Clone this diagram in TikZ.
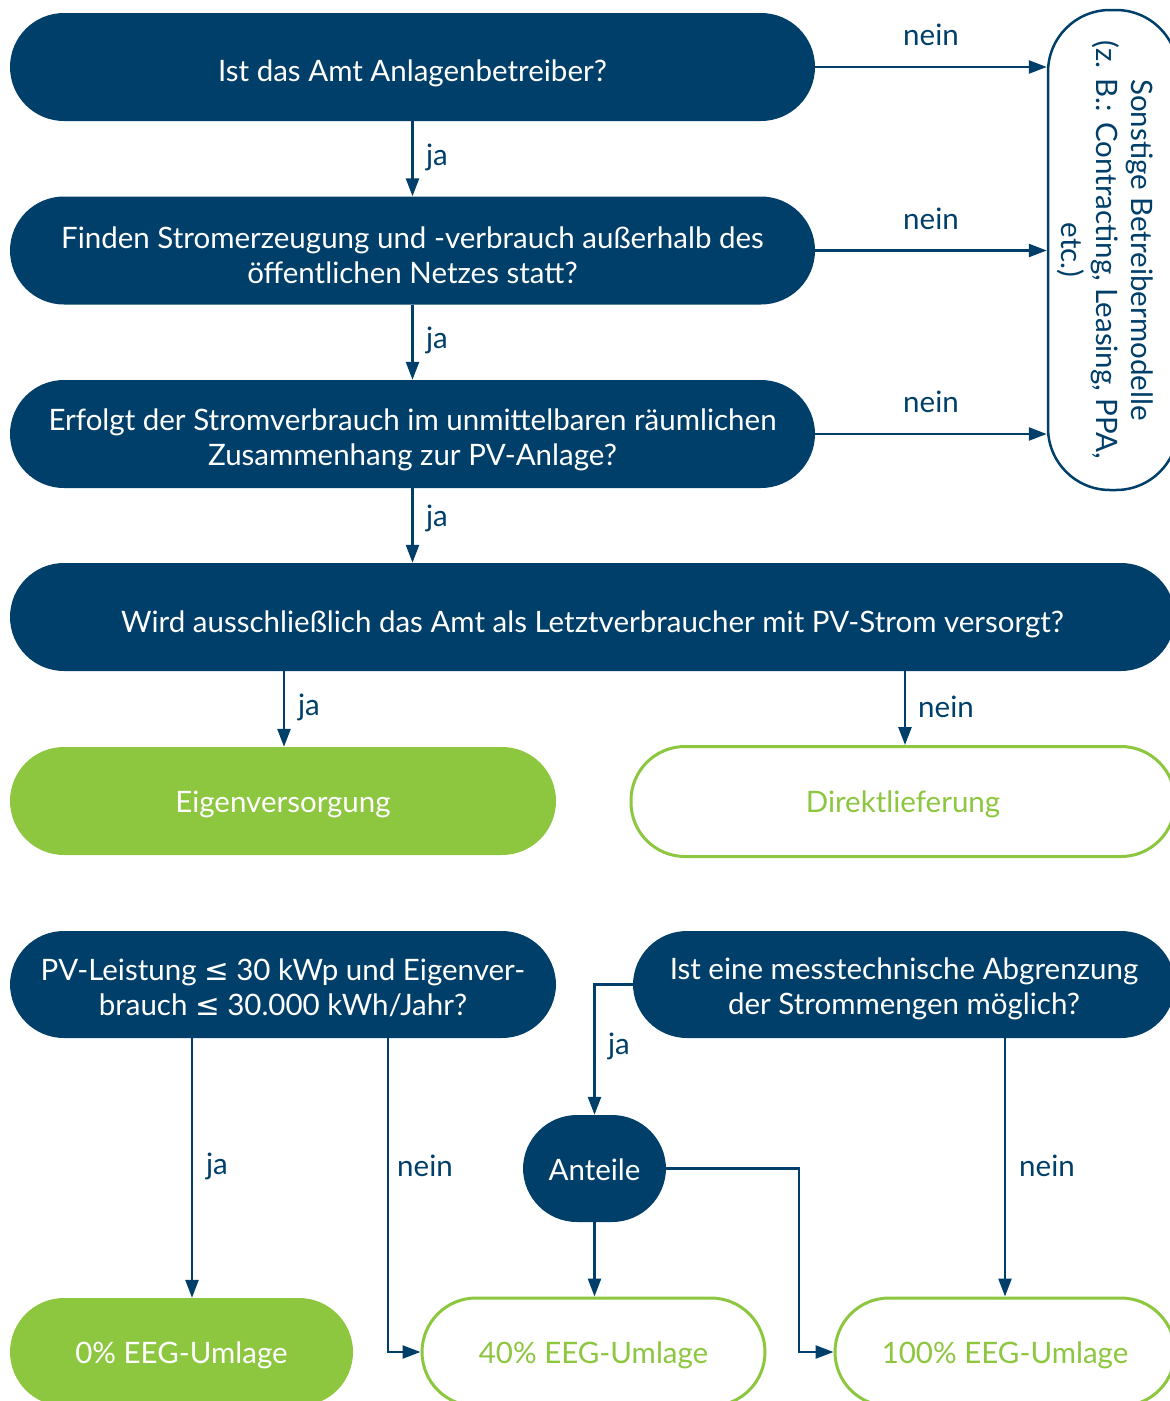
\documentclass[tikz,border=0pt]{standalone}
\usepackage{fontspec}
\setmainfont{Lato}
\newfontfamily\symfont{DejaVu Sans}
\usetikzlibrary{arrows.meta}
\definecolor{navy}{HTML}{003F69}
\definecolor{leaf}{HTML}{8DC63F}
\tikzset{
  base/.style={minimum height=108pt, rounded corners=54pt, inner sep=0pt},
  dark/.style={base, fill=navy},
  solid green/.style={base, fill=leaf},
  outline green/.style={base, draw=leaf, line width=3pt, fill=white},
  txtl/.style={align=center, font=\fontsize{29.5}{35}\selectfont, inner sep=0pt},
  wtx/.style 2 args={label={[txtl, text=white, yshift=#1]center:{#2}}},
  gtx/.style 2 args={label={[txtl, text=leaf, yshift=#1]center:{#2}}},
  arr/.style={draw=navy, line width=2.5pt, -{Triangle[length=18pt,width=13pt]}},
  lbl/.style={text=navy, font=\fontsize{29.5}{35}\selectfont, inner sep=0pt},
}
\begin{document}
\begin{tikzpicture}[x=1pt,y=-1pt]
\useasboundingbox (0,0) rectangle (1170,1401);
\clip (0,0) rectangle (1170,1401);

% decision chain
\node[dark, minimum width=805pt, wtx={-6pt}{Ist das Amt Anlagenbetreiber?}] (b1) at (412.5,67) {};
\node[dark, minimum width=805pt, wtx={-5pt}{Finden Stromerzeugung und -verbrauch außerhalb des\\öffentlichen Netzes statt?}] (b2) at (412.5,250.5) {};
\node[dark, minimum width=805pt, wtx={-6pt}{Erfolgt der Stromverbrauch im unmittelbaren räumlichen\\Zusammenhang zur PV-Anlage?}] (b3) at (412.5,434) {};
\node[dark, minimum width=1165pt, wtx={-7pt}{Wird ausschließlich das Amt als Letztverbraucher mit PV-Strom versorgt?}] (b4) at (592.5,617) {};

% other operator models
\node[draw=navy, line width=2.5pt, fill=white, minimum width=130pt, minimum height=480pt, rounded corners=62pt, inner sep=0pt] (rb) at (1113,250) {};
\node[text=navy, rotate=-90, align=center, font=\fontsize{29.5}{35}\selectfont, inner sep=0pt] (rbt) at (1105,250)
  {Sonstige Betreibermodelle\\(z. B.: Contracting, Leasing, PPA,\\etc.)};

% supply type
\node[solid green, minimum width=546pt, wtx={-3pt}{Eigenversorgung}] (eig) at (283,801) {};
\node[outline green, minimum width=544pt, minimum height=110pt, gtx={-3pt}{Direktlieferung}] (dir) at (903,801.5) {};

% levy questions
\node[dark, minimum width=546pt, minimum height=107pt, wtx={-3pt}{PV-Leistung {\symfont ≤} 30 kWp und Eigenver-\\brauch {\symfont ≤} 30.000 kWh/Jahr?}] (pv) at (283,984.5) {};
\node[dark, minimum width=542pt, minimum height=107pt, wtx={-4pt}{Ist eine messtechnische Abgrenzung\\der Strommengen möglich?}] (mt) at (904,984.5) {};
\node[dark, minimum width=143pt, minimum height=107pt, wtx={-1pt}{Anteile}] (ant) at (594.5,1168.5) {};

% levy results
\node[solid green, minimum width=343pt, wtx={-3pt}{0\% EEG-Umlage}] (z) at (181.5,1352) {};
\node[outline green, minimum width=343pt, gtx={-3pt}{40\% EEG-Umlage}] (f) at (593.5,1352) {};
\node[outline green, minimum width=340pt, gtx={-3pt}{100\% EEG-Umlage}] (h) at (1005,1352) {};

% connectors
\draw[arr] (b1.east) -- (b1.east -| rb.west);
\draw[arr] (b2.east) -- (b2.east -| rb.west);
\draw[arr] (b3.east) -- (b3.east -| rb.west);
\draw[arr] (b1.south) -- (b2.north);
\draw[arr] (b2.south) -- (b3.north);
\draw[arr] (b3.south) -- (b3.south |- b4.north);

\coordinate (xe) at (284,0);
\coordinate (xd) at (905,0);
\draw[arr] (b4.south -| xe) -- (eig.north -| xe);
\draw[arr] (b4.south -| xd) -- (dir.north -| xd);

\coordinate (xz) at (192,0);
\coordinate (xf) at (388,0);
\coordinate (xa) at (799,0);
\coordinate (xh) at (1005,0);
\draw[arr] (pv.south -| xz) -- (z.north -| xz);
\draw[arr] (pv.south -| xf) |- (f.west);
\draw[arr] (mt.west) -| (ant.north);
\draw[arr] (ant.south) -- (ant.south |- f.north);
\draw[arr] (ant.east) -- (ant.east -| xa) |- (h.west);
\draw[arr] (mt.south -| xh) -- (h.north -| xh);

% labels
\node[lbl] (n1) at (931,35) {nein};
\node[lbl] (n2) at (931,219) {nein};
\node[lbl] (n3) at (931,402) {nein};
\node[lbl] (j1) at (437,157) {ja};
\node[lbl] (j2) at (437,340) {ja};
\node[lbl] (j3) at (437,518) {ja};
\node[lbl] (j4) at (309,707) {ja};
\node[lbl] (n4) at (946,707) {nein};
\node[lbl] (j5) at (619,1046) {ja};
\node[lbl] (j6) at (217,1166) {ja};
\node[lbl] (n5) at (425,1166) {nein};
\node[lbl] (n6) at (1047,1166) {nein};
\end{tikzpicture}
\end{document}
